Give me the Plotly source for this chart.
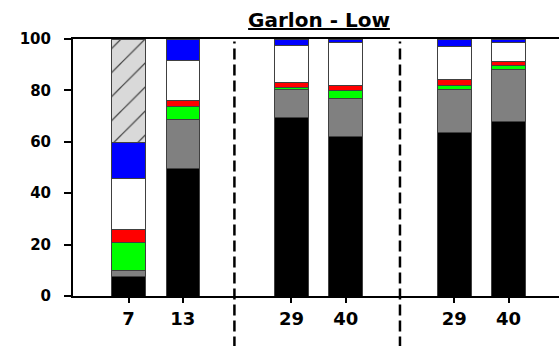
import plotly.graph_objects as go

# Data
tick_labels = ["7", "13", "29", "40", "29", "40"]
positions = [0, 1, 3, 4, 6, 7]
separators = [1.95, 5.0]

black = [7.4, 49.8, 69.3, 61.9, 63.7, 67.8]
gray = [2.6, 18.7, 11.0, 15.0, 16.6, 20.3]
green = [10.9, 5.3, 1.0, 3.1, 1.7, 1.6]
red = [4.8, 2.1, 1.6, 1.8, 2.4, 1.5]
white = [19.9, 15.7, 14.6, 16.9, 12.7, 7.6]
blue = [14.2, 8.4, 2.5, 1.3, 2.9, 1.2]
hatched = [40.2, None, None, None, None, None]

series = [
    ("black", black, "#000000"),
    ("gray", gray, "#808080"),
    ("green", green, "#00ff00"),
    ("red", red, "#ff0000"),
    ("white", white, "#ffffff"),
    ("blue", blue, "#0000ff"),
]

fig = go.Figure()
for name, vals, col in series:
    fig.add_trace(go.Bar(
        x=positions, y=vals, name=name, width=0.62,
        marker=dict(color=col, line=dict(color="#404040", width=1)),
    ))
fig.add_trace(go.Bar(
    x=positions, y=hatched, name="hatched", width=0.62,
    marker=dict(color="#d9d9d9", line=dict(color="#404040", width=1),
                pattern=dict(shape="/", bgcolor="#d9d9d9", fgcolor="#404040",
                             size=17, solidity=0.07, fillmode="replace")),
))

for s in separators:
    fig.add_shape(type="line", xref="x", yref="paper", x0=s, x1=s,
                  y0=-0.2, y1=0.99,
                  line=dict(color="black", width=2.5, dash="11px,5px"))

fig.update_layout(
    width=559, height=346,
    margin=dict(l=73, r=0, t=39, b=50),
    barmode="stack",
    showlegend=False,
    plot_bgcolor="white",
    paper_bgcolor="white",
    title=dict(text="<u>Garlon - Low</u>", xref="container", x=319 / 559, xanchor="center",
               y=1 - 20 / 346, yanchor="middle",
               font=dict(family="DejaVu Sans", size=20, color="black", weight="bold")),
    xaxis=dict(range=[-1.024, 7.93], tickmode="array", tickvals=positions,
               ticktext=tick_labels, showline=True, linecolor="black", linewidth=2,
               mirror=True, ticks="outside", ticklen=5, tickwidth=2, tickcolor="black",
               showgrid=False, zeroline=False,
               tickfont=dict(family="DejaVu Sans", size=18, color="black", weight="bold")),
    yaxis=dict(range=[0, 100], tickvals=[0, 20, 40, 60, 80, 100],
               showline=True, linecolor="black", linewidth=2,
               ticks="outside", ticklen=7, tickwidth=2, tickcolor="black",
               showgrid=False, zeroline=False, ticklabelstandoff=10,
               tickfont=dict(family="DejaVu Sans", size=15, color="black", weight="bold")),
)

fig.write_html("out.html")
